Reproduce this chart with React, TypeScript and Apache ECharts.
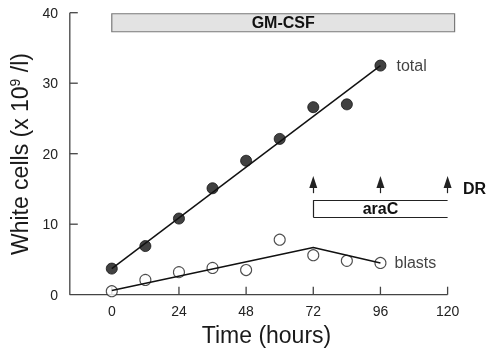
import React, { useEffect, useRef } from "react";
import * as echarts from "echarts";

const hours = [0, 12, 24, 36, 48, 60, 72, 84, 96];
const totalCells = [3.7, 6.9, 10.8, 15.1, 19.0, 22.1, 26.6, 27.0, 32.5];
const blastCells = [0.5, 2.1, 3.2, 3.8, 3.5, 7.8, 5.6, 4.8, 4.5];
const totalFit = [[0, 3.7], [96, 32.5]];
const blastFit = [[0, 0.6], [72, 6.7], [96, 4.5]];
const xTicks = [0, 24, 48, 72, 96, 120];
const yTicks = [0, 10, 20, 30, 40];
const xRange = [-15, 120];
const yRange = [0, 40];
const gmcsfSpan = { x0: 0, x1: 122.5, y0: 37.3, y1: 39.85 };
const aracSpan = { x0: 72, x1: 120, y0: 11.0, y1: 13.4 };
const drDoses = [72, 96, 120];
const arrowY = [14.4, 16.0];

const FONT = "'Liberation Sans', Arial, Helvetica, sans-serif";
const AXIS = "#444444";

export default function App() {
  const ref = useRef<HTMLDivElement>(null);
  useEffect(() => {
    if (!ref.current) return;
    const chart = echarts.init(ref.current, null, { renderer: "svg" });
    const pair = (xs: number[], ys: number[]) => xs.map((x, i) => [x, ys[i]]);
    const lastLabel = (text: string, dist: number) => ({
      show: true,
      position: "right",
      distance: dist,
      formatter: text,
      fontSize: 16,
      fontFamily: FONT,
      color: "#111",
    });
    const totalData: any[] = pair(hours, totalCells).map((p, i, arr) =>
      i === arr.length - 1 ? { value: p, label: lastLabel("total", 10) } : p
    );
    const blastData: any[] = pair(hours, blastCells).map((p, i, arr) =>
      i === arr.length - 1 ? { value: p, label: lastLabel("blasts", 8) } : p
    );
    const edge = (a: number[], b: number[], endSym = "none") => [
      { coord: a, symbol: "none" },
      { coord: b, symbol: endSym, symbolSize: endSym === "none" ? 0 : [8, 12] },
    ];
    const xTickLen = 1.13; // y-units (about 8 px)
    const yTickLen = 2.85; // x-units (about 8 px)
    const axisSeries = (data: number[][]) => ({
      type: "line",
      data,
      showSymbol: false,
      silent: true,
      clip: false,
      z: 1,
      lineStyle: { color: AXIS, width: 1.3 },
    });
    chart.setOption({
      animation: false,
      textStyle: { fontFamily: FONT },
      grid: { left: 68, right: 31, top: 12, bottom: 53, containLabel: false },
      xAxis: {
        type: "value",
        position: "bottom",
        min: -15.3,
        max: 123,
        name: "Time (hours)",
        nameLocation: "middle",
        nameGap: 25,
        nameTextStyle: { fontSize: 23, color: "#1a1a1a", fontFamily: FONT, padding: [0, 0, 0, 8] },
        axisLine: { show: false },
        axisTick: { show: false },
        axisLabel: { customValues: xTicks, fontSize: 14, color: "#222", margin: 8, fontFamily: FONT },
        splitLine: { show: false },
      },
      yAxis: {
        type: "value",
        position: "left",
        min: -0.2,
        max: 40.1,
        name: "White cells (x 10{sup|9} /l)",
        nameLocation: "middle",
        nameGap: 36,
        nameTextStyle: {
          fontSize: 23,
          color: "#1a1a1a",
          fontFamily: FONT,
          rich: { sup: { fontSize: 14, verticalAlign: "top", padding: [0, 0, 10, 0], color: "#1a1a1a", fontFamily: FONT } },
        },
        axisLine: { show: false },
        axisTick: { show: false },
        axisLabel: { customValues: yTicks, fontSize: 14, color: "#222", margin: 11, fontFamily: FONT },
        splitLine: { show: false },
      },
      graphic: [
        {
          type: "text",
          left: 463,
          top: 180,
          style: { text: "DR", fontSize: 16, fontWeight: "bold", fill: "#111", font: `bold 16px ${FONT}` },
        },
      ],
      series: [
        // axis frame
        axisSeries([[xRange[0], yRange[1]], [xRange[0], yRange[0]], [xRange[1], yRange[0]]]),
        // inward ticks
        ...xTicks.map((t) => axisSeries([[t, yRange[0]], [t, yRange[0] + xTickLen]])),
        ...yTicks.slice(1).map((t) => axisSeries([[xRange[0], t], [xRange[0] + yTickLen, t]])),
        {
          type: "line",
          data: totalFit,
          showSymbol: false,
          silent: true,
          clip: false,
          lineStyle: { color: "#111", width: 1.5 },
          markArea: {
            silent: true,
            data: [
              [
                {
                  xAxis: gmcsfSpan.x0,
                  yAxis: gmcsfSpan.y0,
                  itemStyle: { color: "#e3e3e3", borderColor: "#7a7a7a", borderWidth: 1.2 },
                  label: { show: true, position: "inside", formatter: "GM-CSF", fontSize: 16, fontWeight: "bold", color: "#111", fontFamily: FONT },
                },
                { xAxis: gmcsfSpan.x1, yAxis: gmcsfSpan.y1 },
              ],
              [
                {
                  xAxis: aracSpan.x0,
                  yAxis: aracSpan.y0,
                  itemStyle: { color: "#ffffff", borderWidth: 0 },
                  label: { show: true, position: "inside", formatter: "araC", fontSize: 16, fontWeight: "bold", color: "#111", fontFamily: FONT },
                },
                { xAxis: aracSpan.x1, yAxis: aracSpan.y1 },
              ],
            ],
          },
          markLine: {
            silent: true,
            label: { show: false },
            lineStyle: { type: "solid", color: "#222", width: 1.2 },
            data: [
              edge([aracSpan.x0, aracSpan.y1], [aracSpan.x1, aracSpan.y1]),
              edge([aracSpan.x0, aracSpan.y0], [aracSpan.x1, aracSpan.y0]),
              edge([aracSpan.x0, aracSpan.y0], [aracSpan.x0, aracSpan.y1]),
              ...drDoses.map((d) => edge([d, arrowY[0]], [d, arrowY[1]], "triangle")),
            ],
          },
        },
        {
          type: "line",
          data: blastFit,
          showSymbol: false,
          silent: true,
          lineStyle: { color: "#111", width: 1.5 },
        },
        {
          type: "scatter",
          data: totalData,
          symbol: "circle",
          symbolSize: 11,
          itemStyle: { color: "#111", borderColor: "#111", borderWidth: 1 },
        },
        {
          type: "scatter",
          data: blastData,
          symbol: "circle",
          symbolSize: 11,
          itemStyle: { color: "#ffffff", borderColor: "#222", borderWidth: 1.1 },
        },
      ],
    });
    return () => chart.dispose();
  }, []);
  return <div ref={ref} style={{ position: "fixed", left: 0, top: 0, width: 487, height: 351 }} />;
}
